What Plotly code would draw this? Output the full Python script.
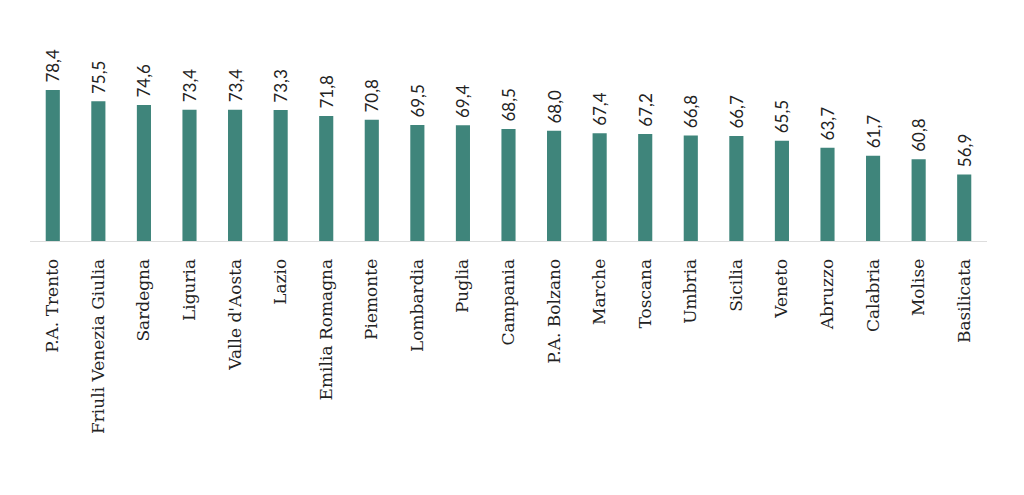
import plotly.graph_objects as go

regions = ["P.A. Trento", "Friuli Venezia Giulia", "Sardegna", "Liguria", "Valle d'Aosta",
           "Lazio", "Emilia Romagna", "Piemonte", "Lombardia", "Puglia", "Campania",
           "P.A. Bolzano", "Marche", "Toscana", "Umbria", "Sicilia", "Veneto", "Abruzzo",
           "Calabria", "Molise", "Basilicata"]
values = [78.4, 75.5, 74.6, 73.4, 73.4, 73.3, 71.8, 70.8, 69.5, 69.4, 68.5,
          68.0, 67.4, 67.2, 66.8, 66.7, 65.5, 63.7, 61.7, 60.8, 56.9]

labels = ["\u00a0" + f"{v:.1f}".replace(".", ",") for v in values]

fig = go.Figure(go.Bar(
    x=regions, y=values, text=labels, textposition="outside", textangle=-90,
    textfont=dict(family="Lato", size=17, color="#222222"),
    marker=dict(color="#3f857b", line=dict(width=0)),
    width=0.31, cliponaxis=False,
))
fig.update_layout(
    width=1024, height=495,
    margin=dict(l=22, r=45, t=56, b=262),
    plot_bgcolor="white", paper_bgcolor="white",
    showlegend=False,
    uniformtext=dict(mode="show", minsize=17),
)
fig.update_yaxes(range=[40, 85], visible=False, showgrid=False, zeroline=False, automargin=False)
fig.update_xaxes(tickangle=-90, tickfont=dict(family="DejaVu Serif", size=17, color="#222222"),
                 showline=True, linecolor="#dddddd", linewidth=1, ticks="outside",
                 ticklen=10, tickcolor="rgba(0,0,0,0)", showgrid=False, automargin=False)
fig.write_html("out.html")
